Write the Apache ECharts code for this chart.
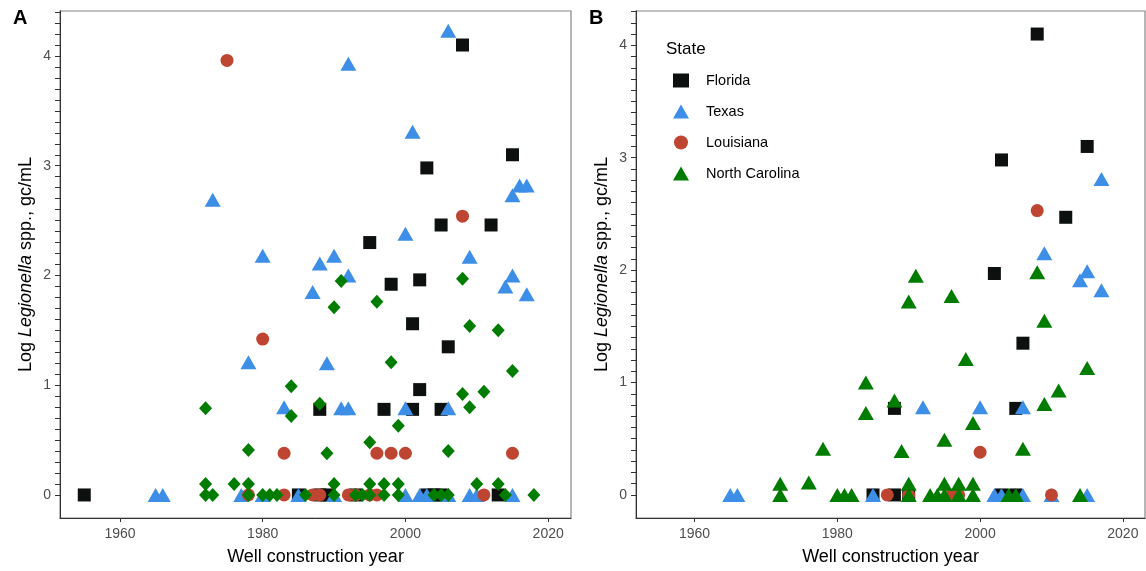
<!DOCTYPE html>
<html><head><meta charset="utf-8">
<script src="https://cdn.jsdelivr.net/npm/echarts@6/dist/echarts.min.js"></script>
<style>html,body{margin:0;padding:0;background:#fff}#c{width:1146px;height:571px}</style>
</head><body><div id="c"></div>
<script>
// ---- Panel A data: [construction year, log Legionella] ----
const floridaA = [[1955,0],[2008,4.1],[2015,3.1],[2003,2.98],[2005,2.46],[2012,2.46],[1995,2.3],[1998,1.92],[2002,1.96],[2001,1.56],[2006,1.35],[2002,0.96],[1988,0.78],[1997,0.78],[2001,0.78],[2005,0.78],[1985,0],[1988,0],[1989,0],[1993,0],[2003,0],[2004,0],[2005,0],[2013,0]];
const texasA = [[2006,4.23],[1992,3.93],[2001,3.31],[1973,2.69],[2016,2.82],[2017,2.82],[2015,2.73],[1980,2.18],[2000,2.38],[2009,2.17],[1990,2.18],[1988,2.11],[1992,2.0],[1987,1.85],[2015,2.0],[2014,1.9],[2017,1.83],[1978,1.21],[1989,1.2],[1983,0.8],[1991,0.79],[1992,0.79],[2000,0.79],[2006,0.79],[1965,0],[1966,0],[1977,0],[1980,0],[1985,0],[1990,0],[2000,0],[2002,0],[2003,0],[2006,0],[2009,0],[2010,0],[2015,0]];
const louisianaA = [[1975,3.96],[1980,1.42],[2008,2.54],[1983,0.38],[1996,0.38],[1998,0.38],[2000,0.38],[2015,0.38],[1978,0],[1983,0],[1987,0],[1988,0],[1992,0],[1993,0],[1995,0],[1996,0],[2011,0]];
const carolinaA = [[1972,0.79],[1984,0.99],[1984,0.72],[1978,0.41],[1991,1.95],[1990,1.71],[1996,1.76],[2008,1.97],[2009,1.54],[2013,1.5],[1998,1.21],[2015,1.13],[1988,0.83],[2008,0.92],[2011,0.94],[2009,0.8],[1999,0.63],[1995,0.48],[1989,0.38],[2006,0.4],[1972,0.1],[1976,0.1],[1978,0.1],[1990,0.1],[1995,0.1],[1997,0.1],[1999,0.1],[2010,0.1],[2013,0.1],[1972,0],[1973,0],[1978,0],[1980,0],[1981,0],[1982,0],[1986,0],[1990,0],[1993,0],[1994,0],[1995,0],[1997,0],[1999,0],[2004,0],[2005,0],[2006,0],[2014,0],[2018,0]];
// ---- Panel B data ----
const floridaB = [[2008,4.1],[2003,2.98],[2015,3.1],[2012,2.47],[2002,1.97],[2006,1.35],[1988,0.77],[2005,0.77],[1985,0],[1988,0],[1990,0],[2003,0],[2005,0]];
const texasB = [[2017,2.81],[2009,2.15],[2015,1.99],[2014,1.91],[2017,1.82],[1992,0.78],[2000,0.78],[2006,0.78],[1965,0],[1966,0],[1985,0],[2002,0],[2003,0],[2006,0],[2010,0],[2015,0]];
const louisianaB = [[2008,2.53],[2000,0.38],[1987,0],[1990,0],[1996,0],[1997,0],[2010,0]];
const carolinaB = [[1991,1.95],[2008,1.98],[1990,1.72],[1996,1.77],[2009,1.55],[1998,1.21],[2015,1.13],[1984,1.0],[1984,0.73],[1978,0.41],[1988,0.84],[2011,0.93],[2009,0.81],[1999,0.64],[1995,0.49],[1989,0.39],[2006,0.41],[1972,0.1],[1976,0.11],[1990,0.1],[1995,0.1],[1997,0.1],[1999,0.1],[1972,0],[1980,0],[1981,0],[1982,0],[1990,0],[1993,0],[1994,0],[1995,0],[1997,0],[1999,0],[2004,0],[2005,0],[2014,0]];

const states = ['Florida','Texas','Louisiana','North Carolina'];
const xTickLabels = [1960,1980,2000,2020];
const yTickLabels = [0,1,2,3,4];
const yMinorA = [0,0.1,0.2,0.3,0.4,0.5,0.6,0.7,0.8,0.9,1,1.1,1.2,1.3,1.4,1.5,1.6,1.7,1.8,1.9,2,2.1,2.2,2.3,2.4,2.5,2.6,2.7,2.8,2.9,3,3.1,3.2,3.3,3.4,3.5,3.6,3.7,3.8,3.9,4,4.1,4.2,4.3,4.4];
const yMinorB = [0,0.1,0.2,0.3,0.4,0.5,0.6,0.7,0.8,0.9,1,1.1,1.2,1.3,1.4,1.5,1.6,1.7,1.8,1.9,2,2.1,2.2,2.3,2.4,2.5,2.6,2.7,2.8,2.9,3,3.1,3.2,3.3,3.4,3.5,3.6,3.7,3.8,3.9,4,4.1,4.2,4.3];

const FONT = '"Liberation Sans", Arial, sans-serif';
const COL = {Florida:'#0c100f', Texas:'#3d8ee6', Louisiana:'#bf4533', NC:'#007c00'};

function xAxisDef(gi, mn, mx) {
  return {gridIndex: gi, type: 'value', min: mn, max: mx,
    axisLine: {show: true, onZero: false, lineStyle: {color: '#333', width: 1}},
    axisTick: {show: true, customValues: xTickLabels, length: 4, lineStyle: {color: '#333'}},
    axisLabel: {customValues: xTickLabels, color: '#4d4d4d', fontSize: 14, margin: 9, fontFamily: FONT,
      formatter: function (v) { return String(v); }},
    splitLine: {show: false},
    name: 'Well construction year', nameLocation: 'middle', nameGap: 30,
    nameTextStyle: {fontSize: 18, color: '#000', fontFamily: FONT}};
}
function yAxisDef(gi, mn, mx, minor) {
  return {gridIndex: gi, type: 'value', min: mn, max: mx,
    axisLine: {show: true, onZero: false, lineStyle: {color: '#333', width: 1}},
    axisTick: {show: true, customValues: minor, length: 5, lineStyle: {color: '#333'}},
    axisLabel: {customValues: yTickLabels, color: '#4d4d4d', fontSize: 14, margin: 9, fontFamily: FONT},
    splitLine: {show: false},
    name: 'Log {i|Legionella} spp., gc/mL', nameLocation: 'middle', nameRotate: 90, nameGap: 25,
    nameTextStyle: {fontSize: 18, color: '#000', fontFamily: FONT,
      rich: {i: {fontStyle: 'italic', fontSize: 18, color: '#000', fontFamily: FONT}}}};
}
function sc(name, data, gi, symbol, size, color) {
  return {type: 'scatter', name: name, data: data, xAxisIndex: gi, yAxisIndex: gi,
    symbol: symbol, symbolSize: size, itemStyle: {color: color, opacity: 1},
    emphasis: {disabled: true}, silent: true, animation: false};
}

const chart = echarts.init(document.getElementById('c'), null, {renderer: 'canvas'});
chart.setOption({
  animation: false,
  backgroundColor: '#fff',
  textStyle: {fontFamily: FONT},
  title: [
    {text: 'A', left: 8, top: 3, textStyle: {fontSize: 20, fontWeight: 'bold', color: '#000', fontFamily: FONT}},
    {text: 'B', left: 584, top: 3, textStyle: {fontSize: 20, fontWeight: 'bold', color: '#000', fontFamily: FONT}},
    {text: 'State', left: 661, top: 36, textStyle: {fontSize: 17, fontWeight: 'normal', color: '#000', fontFamily: FONT}}
  ],
  grid: [
    {left: 60, top: 11, width: 511, height: 508, show: true, borderColor: '#858585', borderWidth: 1.2, backgroundColor: '#fff'},
    {left: 636, top: 11, width: 509, height: 508, show: true, borderColor: '#858585', borderWidth: 1.2, backgroundColor: '#fff'}
  ],
  xAxis: [xAxisDef(0, 1951.6, 2023.2), xAxisDef(1, 1951.8, 2023.1)],
  yAxis: [yAxisDef(0, -0.21, 4.41, yMinorA), yAxisDef(1, -0.205, 4.305, yMinorB)],
  legend: {
    data: states, orient: 'vertical', left: 668, top: 68,
    itemWidth: 16, itemHeight: 14, itemGap: 16, selectedMode: false,
    textStyle: {fontSize: 14.5, color: '#000', fontFamily: FONT, padding: [0, 0, 0, 12]}
  },
  series: [
    sc('Florida', floridaB, 1, 'rect', 13, COL.Florida),
    sc('Texas', texasB, 1, 'triangle', [16, 14], COL.Texas),
    sc('Louisiana', louisianaB, 1, 'circle', 13, COL.Louisiana),
    sc('North Carolina', carolinaB, 1, 'triangle', [16, 14], COL.NC),
    sc('Florida', floridaA, 0, 'rect', 13, COL.Florida),
    sc('Texas', texasA, 0, 'triangle', [16, 14], COL.Texas),
    sc('Louisiana', louisianaA, 0, 'circle', 13, COL.Louisiana),
    sc('North Carolina', carolinaA, 0, 'diamond', [13, 14], COL.NC)
  ]
});
</script>
</body></html>
